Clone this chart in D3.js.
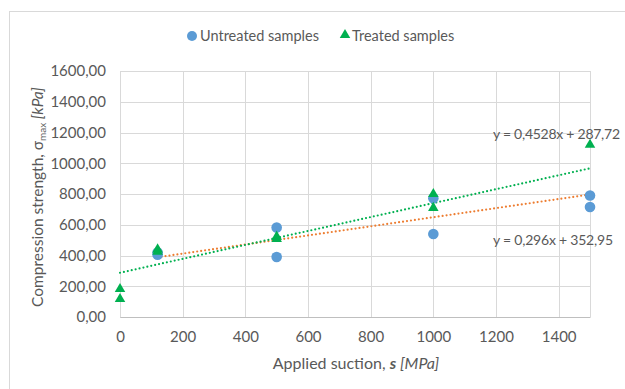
<!DOCTYPE html>
<html>
<head>
<meta charset="utf-8">
<script src="https://cdn.jsdelivr.net/npm/d3@7"></script>
<style>
  body { margin: 0; background: #fff; }
  text { font-family: Lato, "Open Sans", sans-serif; fill: #595959; }
</style>
</head>
<body>
<svg width="625" height="389"></svg>
<script>
// data
const untreatedX = [120, 120, 500, 500, 1000, 1000, 1500, 1500];
const untreatedY = [405, 420, 582, 390, 540, 773, 790, 715];
const treatedX = [0, 0, 120, 120, 500, 500, 1000, 1000, 1500];
const treatedY = [182, 117, 440, 425, 523, 508, 800, 710, 1120];
// trend lines as printed on the chart: [slope, intercept]
const untreatedTrend = [0.296, 352.95];
const treatedTrend = [0.4528, 287.72];
const trendLabels = ["y = 0,296x + 352,95", "y = 0,4528x + 287,72"];
const xTicks = [0, 200, 400, 600, 800, 1000, 1200, 1400];
const yTicks = [0, 200, 400, 600, 800, 1000, 1200, 1400, 1600];

const svg = d3.select("svg");

// outer chart border
svg.append("rect")
  .attr("x", 9.5).attr("y", 11.5)
  .attr("width", 640).attr("height", 400)
  .attr("fill", "none").attr("stroke", "#d9d9d9");

const x = d3.scaleLinear().domain([0, 1500]).range([120, 590]);
const y = d3.scaleLinear().domain([0, 1600]).range([317, 71]);

// gridlines
svg.append("g")
  .selectAll("line.h")
  .data(yTicks)
  .enter()
  .append("line")
  .attr("x1", x(0)).attr("x2", x(1500))
  .attr("y1", (d) => Math.round(y(d)) + 0.5)
  .attr("y2", (d) => Math.round(y(d)) + 0.5)
  .attr("stroke", "#d9d9d9");
svg.append("g")
  .selectAll("line.v")
  .data(xTicks.concat([1500]))
  .enter()
  .append("line")
  .attr("y1", y(0)).attr("y2", y(1600))
  .attr("x1", (d) => Math.round(x(d)) + 0.5)
  .attr("x2", (d) => Math.round(x(d)) + 0.5)
  .attr("stroke", "#d9d9d9");

// axes
const fmt = (d) => d3.format(".2f")(d).replace(".", ",");
const yAxis = svg.append("g")
  .attr("transform", `translate(${x(0)},0)`)
  .call(d3.axisLeft(y).tickValues(yTicks).tickFormat(fmt).tickSize(0).tickPadding(14));
yAxis.select(".domain").remove();
yAxis.selectAll("text").style("font-size", "15px").attr("fill", "#595959");

const xAxis = svg.append("g")
  .attr("transform", `translate(0,${y(0)})`)
  .call(d3.axisBottom(x).tickValues(xTicks).tickFormat(d3.format("d")).tickSize(0).tickPadding(14));
xAxis.select(".domain").attr("stroke", "#bfbfbf");
xAxis.selectAll("text").style("font-size", "15px").attr("fill", "#595959");

// trend lines
function trend(xs, coef) {
  const [a, b] = coef;
  const ext = d3.extent(xs);
  return ext.map((v) => [v, a * v + b]);
}
const line = d3.line().x((d) => x(d[0])).y((d) => y(d[1]));
svg.append("path")
  .attr("d", line(trend(untreatedX, untreatedTrend)))
  .attr("stroke", "#ed7d31").attr("stroke-width", 2.2)
  .attr("stroke-dasharray", "0 4").attr("stroke-linecap", "round")
  .attr("fill", "none");
svg.append("path")
  .attr("d", line(trend(treatedX, treatedTrend)))
  .attr("stroke", "#00b050").attr("stroke-width", 2.2)
  .attr("stroke-dasharray", "0 4").attr("stroke-linecap", "round")
  .attr("fill", "none");

// points
const untreated = untreatedX.map((v, i) => ({ x: v, y: untreatedY[i] }));
const treated = treatedX.map((v, i) => ({ x: v, y: treatedY[i] }));
svg.append("g")
  .selectAll("circle")
  .data(untreated)
  .enter()
  .append("circle")
  .attr("cx", (d) => x(d.x))
  .attr("cy", (d) => y(d.y))
  .attr("r", 5.3)
  .attr("fill", "#5b9bd5");
const tri = d3.symbol().type(d3.symbolTriangle).size(48);
svg.append("g")
  .selectAll("path")
  .data(treated)
  .enter()
  .append("path")
  .attr("d", tri)
  .attr("transform", (d) => `translate(${x(d.x)},${y(d.y)})`)
  .attr("fill", "#00b050");

// trend equations
svg.append("text")
  .attr("x", 493).attr("y", 139)
  .style("font-size", "14px")
  .attr("textLength", 127).attr("lengthAdjust", "spacing")
  .text(trendLabels[1]);
svg.append("text")
  .attr("x", 493).attr("y", 245)
  .style("font-size", "14px")
  .attr("textLength", 120).attr("lengthAdjust", "spacing")
  .text(trendLabels[0]);

// legend
svg.append("circle").attr("cx", 192).attr("cy", 36).attr("r", 5).attr("fill", "#5b9bd5");
svg.append("text").attr("x", 200).attr("y", 41).style("font-size", "14.5px").text("Untreated samples");
svg.append("path").attr("d", tri).attr("transform", "translate(345,35)").attr("fill", "#00b050");
svg.append("text").attr("x", 352).attr("y", 41).style("font-size", "14.5px").text("Treated samples");

// axis titles
const xt = svg.append("text")
  .attr("x", 356).attr("y", 369)
  .attr("text-anchor", "middle")
  .style("font-size", "16px");
xt.append("tspan").text("Applied suction, ");
xt.append("tspan").style("font-weight", "bold").style("font-style", "italic").text("s");
xt.append("tspan").style("font-style", "italic").text(" [MPa]");

const yt = svg.append("text")
  .attr("transform", "translate(43,197) rotate(-90)")
  .attr("text-anchor", "middle")
  .style("font-size", "15.5px");
yt.append("tspan").text("Compression strength, σ");
yt.append("tspan").attr("dy", 3).style("font-size", "10px").text("max");
yt.append("tspan").attr("dy", -3).style("font-style", "italic").text(" [kPa]");
</script>
</body>
</html>
